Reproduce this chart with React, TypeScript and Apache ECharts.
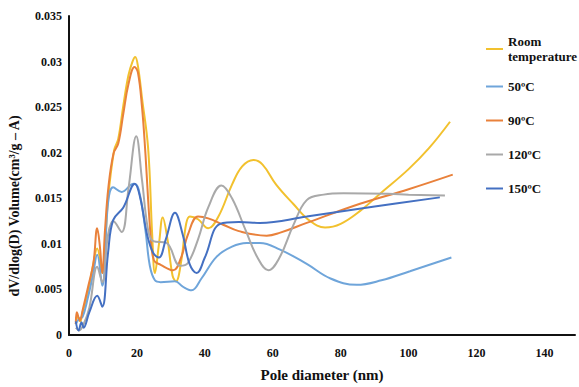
import React, { useEffect, useRef } from "react";
import * as echarts from "echarts";

const seriesNames = ["Room\ntemperature", "50ºC", "90ºC", "120ºC", "150ºC"];
const seriesColors = ["#F2C12E", "#6FA5DA", "#E9813B", "#A9A9A9", "#4470C2"];

const roomX = [2, 2.5, 3.3, 4, 5.5, 7, 8.3, 9.8, 11.5, 13.3, 14.5, 16, 17.5, 18.7, 19.5, 20.3, 21.5, 23.3, 24.5, 25.3, 26.5, 27.6, 29, 30.5, 31.5, 33, 34.5, 35.6, 38, 41, 44, 48, 51, 54.3, 57, 61, 66, 71, 75.4, 80, 86, 91.6, 100, 106, 112.2];
const roomY = [0.0012, 0.002, 0.0015, 0.0025, 0.0045, 0.0075, 0.0095, 0.0068, 0.015, 0.0203, 0.0215, 0.0252, 0.0285, 0.03, 0.0305, 0.0295, 0.026, 0.0205, 0.011, 0.0068, 0.01, 0.0129, 0.0105, 0.0065, 0.0059, 0.008, 0.0122, 0.013, 0.0127, 0.0117, 0.013, 0.0165, 0.0185, 0.0192, 0.0187, 0.0165, 0.0144, 0.0125, 0.0118, 0.0122, 0.0137, 0.0155, 0.0182, 0.0205, 0.0234];

const c50X = [2, 3, 4, 5.5, 7, 8.3, 9.8, 11.5, 13, 15.5, 19, 20.5, 22.5, 23.8, 25.3, 27, 31.2, 33.5, 36.1, 39, 43.5, 48, 52.3, 56.2, 62, 70, 77, 84.7, 92, 100.4, 112.6];
const c50Y = [0.0012, 0.0018, 0.002, 0.004, 0.0065, 0.0088, 0.0054, 0.0145, 0.0162, 0.0157, 0.0166, 0.016, 0.0115, 0.0076, 0.006, 0.0058, 0.0059, 0.0053, 0.0049, 0.0062, 0.0086, 0.0097, 0.0101, 0.0101, 0.0094, 0.0078, 0.0062, 0.0055, 0.006, 0.007, 0.0085];

const c90X = [2, 2.3, 3.2, 4, 5.7, 7.2, 8.3, 9.1, 9.8, 10.6, 11.6, 13.1, 14.5, 16, 17.5, 19.3, 20.3, 21.5, 22.4, 24, 25, 27, 30.7, 33, 35, 38, 41, 45.4, 50, 58.2, 62, 70, 85.7, 100, 113];
const c90Y = [0.0012, 0.0025, 0.0016, 0.0027, 0.0054, 0.0079, 0.0117, 0.0097, 0.0068, 0.0115, 0.0162, 0.0199, 0.021, 0.0243, 0.0275, 0.0294, 0.0288, 0.025, 0.0205, 0.011, 0.0082, 0.0077, 0.0071, 0.0085, 0.011, 0.013, 0.0128, 0.0121, 0.0114, 0.0109, 0.0112, 0.0123, 0.0144, 0.016, 0.0176];

const c120X = [2, 3, 4.2, 6, 8.3, 9.8, 11.5, 13, 15.5, 17.5, 19.8, 21.5, 23.3, 24.8, 28.7, 32.7, 35, 38, 41, 44.9, 48, 52, 55.5, 58.7, 62, 66, 70, 75, 80.8, 94, 100, 110.7];
const c120Y = [0.0008, 0.0005, 0.0011, 0.003, 0.0075, 0.0058, 0.011, 0.0125, 0.0113, 0.016, 0.0218, 0.017, 0.0115, 0.0103, 0.0101, 0.0076, 0.0079, 0.0105, 0.014, 0.0164, 0.015, 0.0115, 0.0085, 0.0071, 0.0085, 0.012, 0.0148, 0.0154, 0.01555, 0.0155, 0.0154, 0.0153];

const c150X = [2, 2.8, 3.7, 4.3, 6, 8.3, 9.8, 11.5, 13, 16, 19.4, 21, 23, 24.8, 26.5, 28.5, 31.2, 33.5, 35.5, 37.6, 40, 44.5, 50, 56.2, 70, 90, 109.2];
const c150Y = [0.0015, 0.0005, 0.0014, 0.0008, 0.0025, 0.0043, 0.0031, 0.009, 0.0126, 0.014, 0.0166, 0.015, 0.011, 0.009, 0.0085, 0.0105, 0.0134, 0.011, 0.0078, 0.0068, 0.0085, 0.0122, 0.0124, 0.0123, 0.013, 0.0141, 0.0151];

const xTicks = { min: 0, max: 149, interval: 20 };
const yTicks = { min: 0, max: 0.035, interval: 0.005 };

const allX = [roomX, c50X, c90X, c120X, c150X];
const allY = [roomY, c50Y, c90Y, c120Y, c150Y];

const FONT = "Liberation Serif";

export default function App() {
  const ref = useRef<HTMLDivElement>(null);
  useEffect(() => {
    if (!ref.current) return;
    const chart = echarts.init(ref.current, undefined, { renderer: "svg" });
    const series = seriesNames.map((name, i) => ({
      name,
      type: "line",
      smooth: 0.4,
      symbol: "none",
      data: allX[i].map((x, j) => [x, allY[i][j]]),
      lineStyle: { color: seriesColors[i], width: 2 },
      itemStyle: { color: seriesColors[i] },
      z: 2,
    }));
    const legendBase = {
      orient: "vertical",
      left: 486,
      padding: 0,
      icon: "rect",
      itemWidth: 17,
      itemHeight: 2,
      textStyle: {
        fontFamily: FONT,
        fontWeight: "bold",
        fontSize: 13,
        lineHeight: 15,
        color: "#111",
      },
    };
    chart.setOption({
      animation: false,
      backgroundColor: "#ffffff",
      textStyle: { fontFamily: FONT },
      grid: { left: 69, right: 4, top: 16, bottom: 47, containLabel: false },
      legend: [
        { ...legendBase, top: 34, data: seriesNames.slice(0, 1) },
        { ...legendBase, top: 79, itemGap: 19, data: seriesNames.slice(1) },
      ],
      xAxis: {
        type: "value",
        min: xTicks.min,
        max: xTicks.max,
        interval: xTicks.interval,
        name: "Pole diameter (nm)",
        nameLocation: "middle",
        nameGap: 32,
        nameTextStyle: { fontFamily: FONT, fontWeight: "bold", fontSize: 15, color: "#111" },
        axisLine: { show: true, lineStyle: { color: "#111", width: 2 } },
        axisTick: { show: false },
        splitLine: { show: false },
        axisLabel: {
          margin: 12,
          fontFamily: FONT,
          fontWeight: "bold",
          fontSize: 12,
          color: "#111",
          showMaxLabel: false,
        },
      },
      yAxis: {
        type: "value",
        min: yTicks.min,
        max: yTicks.max,
        interval: yTicks.interval,
        axisLine: { show: true, lineStyle: { color: "#111", width: 2 } },
        axisTick: { show: false },
        splitLine: { show: false },
        axisLabel: {
          margin: 7,
          fontFamily: FONT,
          fontWeight: "bold",
          fontSize: 12,
          color: "#111",
        },
      },
      graphic: [
        {
          type: "text",
          x: 14,
          y: 206,
          rotation: Math.PI / 2,
          style: {
            text: "dV/dlog(D) Volume(cm³/g – A)",
            fontFamily: FONT,
            fontWeight: "bold",
            fontSize: 14,
            fill: "#111",
            align: "center",
            verticalAlign: "middle",
          },
        },
      ],
      series,
    });
    return () => chart.dispose();
  }, []);
  return (
    <div
      ref={ref}
      style={{ position: "fixed", left: 0, top: 0, width: 579, height: 387 }}
    />
  );
}
